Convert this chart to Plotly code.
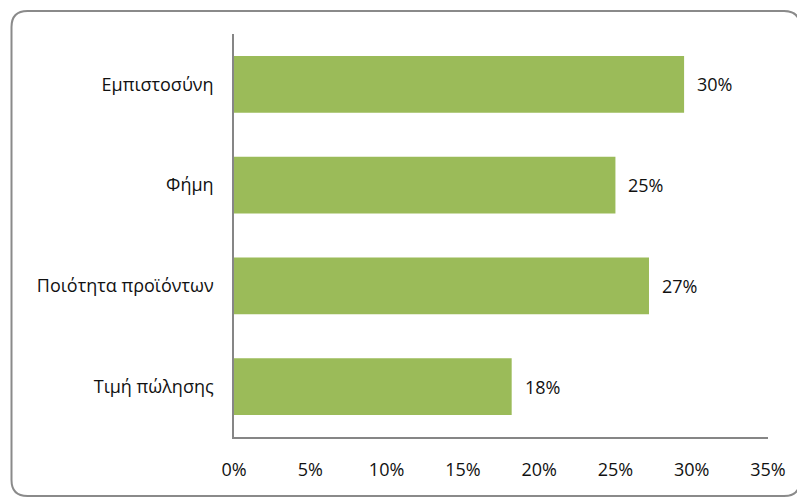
import plotly.graph_objects as go

categories = ["Εμπιστοσύνη", "Φήμη", "Ποιότητα προϊόντων", "Τιμή πώλησης"]
values = [0.295, 0.250, 0.272, 0.182]
value_labels = ["30%", "25%", "27%", "18%"]
tick_vals = [0, 0.05, 0.10, 0.15, 0.20, 0.25, 0.30, 0.35]
tick_text = ["0%", "5%", "10%", "15%", "20%", "25%", "30%", "35%"]

W, H = 797, 498
ML, MR, MT, MB = 234, 29, 34, 61
PW, PH = W - ML - MR, H - MT - MB

FONT = "Open Sans"
FS = 18
fig = go.Figure()
fig.add_trace(go.Bar(
    y=categories, x=values, orientation="h",
    marker=dict(color="#9BBB59", line=dict(width=0)),
    hoverinfo="skip",
))

for c, v, t in zip(categories, values, value_labels):
    fig.add_annotation(x=v, y=c, text=t, showarrow=False, xanchor="left",
                       xshift=11, font=dict(family=FONT, size=FS, color="#111"))

def px(x):
    return (x - ML) / PW

def py(y):
    return 1 - (y - MT) / PH

x0, x1, y0, y1, r = 11.5, 800.0, 11.0, 496.0, 16
path = (f"M {px(x0+r)},{py(y0)} L {px(x1-r)},{py(y0)} Q {px(x1)},{py(y0)} {px(x1)},{py(y0+r)} "
        f"L {px(x1)},{py(y1-r)} Q {px(x1)},{py(y1)} {px(x1-r)},{py(y1)} "
        f"L {px(x0+r)},{py(y1)} Q {px(x0)},{py(y1)} {px(x0)},{py(y1-r)} "
        f"L {px(x0)},{py(y0+r)} Q {px(x0)},{py(y0)} {px(x0+r)},{py(y0)} Z")
fig.add_shape(type="path", path=path, xref="paper", yref="paper",
              line=dict(color="#8a8a8a", width=2), layer="below")

fig.update_layout(
    width=W, height=H,
    margin=dict(l=ML, r=MR, t=MT, b=MB),
    paper_bgcolor="white", plot_bgcolor="white",
    bargap=0.435,
    showlegend=False,
    font=dict(family=FONT, size=FS, color="#111"),
    xaxis=dict(range=[0, 0.35], tickvals=tick_vals, ticktext=tick_text,
               showgrid=False, zeroline=False, showline=True,
               linecolor="#868686", linewidth=1.5, ticks="",
               ticklabelstandoff=16, tickfont=dict(family=FONT, size=FS, color="#111")),
    yaxis=dict(autorange="reversed", showgrid=False, zeroline=False, showline=True,
               linecolor="#868686", linewidth=1.5, ticks="",
               ticklabelstandoff=15, tickfont=dict(family=FONT, size=FS, color="#111")),
)

fig.write_html("out.html", config={"displayModeBar": False},
               post_script="document.body.style.margin='0';document.body.style.overflow='hidden';")
